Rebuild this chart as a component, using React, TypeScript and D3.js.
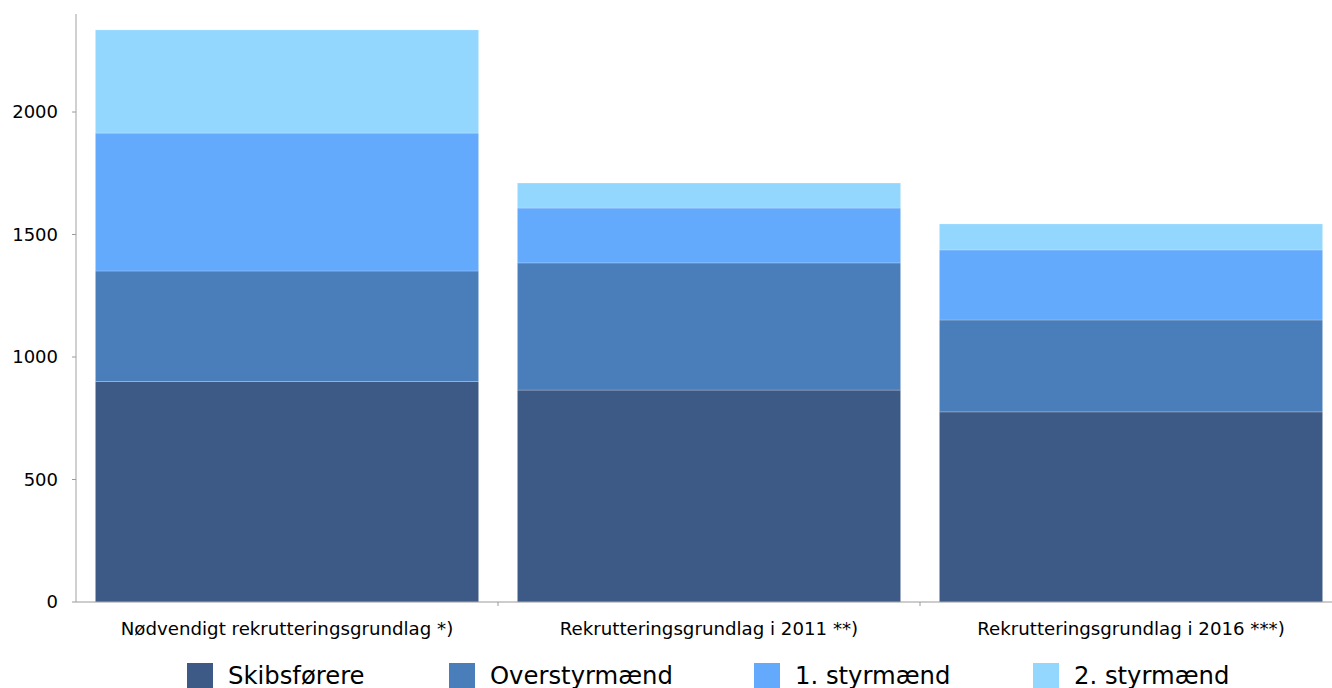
import React from "react";
import * as d3 from "d3";

const categories = [
  "Nødvendigt rekrutteringsgrundlag *)",
  "Rekrutteringsgrundlag i 2011 **)",
  "Rekrutteringsgrundlag i 2016 ***)",
];
const seriesNames = ["Skibsførere", "Overstyrmænd", "1. styrmænd", "2. styrmænd"];
const skibsforere = [900, 865, 776];
const overstyrmaend = [451, 519, 375];
const forsteStyrmaend = [563, 224, 286];
const andenStyrmaend = [421, 102, 106];
const yTicks = [0, 500, 1000, 1500, 2000];
const colors = ["#3d5a87", "#4a7ebb", "#63a9fc", "#93d6fe"];

const W = 1332;
const H = 688;
const FONT = "'DejaVu Sans', sans-serif";

export default function App() {
  const series = [skibsforere, overstyrmaend, forsteStyrmaend, andenStyrmaend];
  const rows = categories.map((c, i) => {
    const r: any = { cat: c };
    seriesNames.forEach((s, j) => (r[s] = series[j][i]));
    return r;
  });
  const stacked = d3.stack<any>().keys(seriesNames)(rows);

  const x = d3
    .scaleBand<string>()
    .domain(categories)
    .range([76, 1342])
    .paddingInner(0.092)
    .paddingOuter(0.046);
  const y = d3.scaleLinear().domain([0, 2400]).range([602, 14]);
  const step = x.step();
  const bandStart = (c: string) => x(c)! - x.paddingOuter() * step;

  const legendX = [187, 449, 754, 1033];

  return (
    <svg
      width={W}
      height={H}
      style={{ position: "absolute", left: 0, top: 0, background: "#fff" }}
      fontFamily={FONT}
    >
      {stacked.map((layer, j) => (
        <g key={layer.key} fill={colors[j]}>
          {layer.map((d, i) => (
            <rect
              key={i}
              x={x(categories[i])}
              width={x.bandwidth()}
              y={y(d[1])}
              height={y(d[0]) - y(d[1])}
              stroke="#ffffff"
              strokeOpacity={0.2}
              strokeWidth={1}
            />
          ))}
        </g>
      ))}
      {/* y axis */}
      <line x1={76} x2={76} y1={y(2400)} y2={y(0)} stroke="#c0c0c0" strokeWidth={1.5} />
      {yTicks.map((t) => (
        <g key={t}>
          <line x1={72} x2={76} y1={y(t)} y2={y(t)} stroke="#9a9a9a" />
          <text x={58} y={y(t)} dy="0.36em" textAnchor="end" fontSize={18} fill="#000">
            {t}
          </text>
        </g>
      ))}
      {/* x axis */}
      <line x1={76} x2={W} y1={y(0)} y2={y(0)} stroke="#9a9a9a" strokeWidth={1} />
      {categories.map((c, i) =>
        i > 0 ? (
          <line key={c} x1={bandStart(c)} x2={bandStart(c)} y1={602} y2={606} stroke="#9a9a9a" />
        ) : null
      )}
      {categories.map((c) => (
        <text
          key={c}
          x={x(c)! + x.bandwidth() / 2}
          y={635}
          textAnchor="middle"
          fontSize={18.2}
          fill="#000"
        >
          {c}
        </text>
      ))}
      {/* legend */}
      {seriesNames.map((s, j) => (
        <g key={s}>
          <rect x={legendX[j]} y={663} width={26} height={26} fill={colors[j]} />
          <text x={legendX[j] + 41} y={684} fontSize={24.3} fill="#000">
            {s}
          </text>
        </g>
      ))}
    </svg>
  );
}
